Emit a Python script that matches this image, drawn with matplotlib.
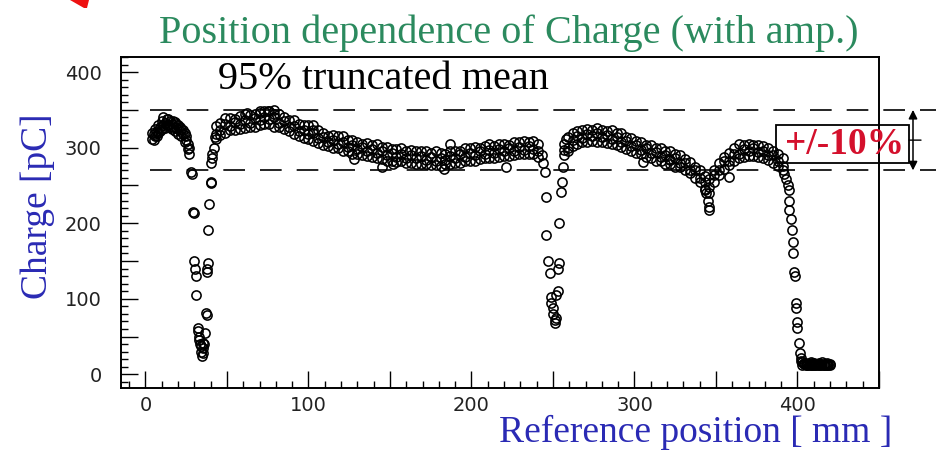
import numpy as np
import matplotlib
matplotlib.use("Agg")
import matplotlib.pyplot as plt
from matplotlib.ticker import MultipleLocator, FuncFormatter
from matplotlib.patches import Rectangle, Polygon

# ---- data (position in mm, charge in pC) ----
# first plateau, x = 4 .. 27
pos_a = [4, 5, 6, 7, 8, 9, 10, 11, 12, 13, 14, 15, 16, 17, 18, 19, 20, 21, 22, 23, 24, 25, 26, 27]
chg_a1 = [312, 318, 315, 322, 320, 328, 325, 330, 333, 338, 330, 335, 332, 328, 334, 326, 330, 322, 325, 318, 320, 310, 305, 300]
chg_a2 = [320, 310, 325, 316, 330, 322, 335, 340, 326, 330, 338, 328, 325, 335, 322, 332, 318, 327, 315, 324, 308, 315, 298, 292]

# first dip
pos_d1 = [28, 28.5, 29, 29.5, 30, 30.5, 31, 31, 32, 32, 33, 33, 33.5, 34, 34, 34.5, 35, 35,
          35.5, 36, 36.5, 37, 37.5, 38, 38.5, 38, 38.6, 39, 40, 40, 40.5, 41, 41, 42, 42.5]
chg_d1 = [268, 265, 215, 213, 150, 140, 130, 105, 62, 58, 50, 45, 40, 38, 30, 25, 28, 35,
          42, 40, 55, 81, 78, 140, 147, 135, 191, 226, 253, 255, 280, 287, 292, 300, 314]

# long plateau, x = 43 .. 241
pos_b = [43, 46, 49, 52, 55, 58, 61, 64, 67, 70, 73, 76, 79, 82, 85, 88, 91, 94, 97, 100,
         103, 106, 109, 112, 115, 118, 121, 124, 127, 130, 133, 136, 139, 142, 145, 148, 151,
         154, 157, 160, 163, 166, 169, 172, 175, 178, 181, 184, 187, 190, 193, 196, 199, 202,
         205, 208, 211, 214, 217, 220, 223, 226, 229, 232, 235, 238, 241]
chg_b_hi = [329, 333, 339, 339, 338, 342, 345, 343, 344, 348, 348, 348, 345, 345, 341, 336, 336,
            331, 330, 330, 324, 324, 320, 316, 317, 315, 315, 310, 310, 308, 305, 306, 303, 305,
            301, 301, 298, 298, 300, 295, 297, 295, 295, 295, 293, 295, 293, 292, 296, 296, 296,
            300, 299, 301, 299, 302, 305, 302, 305, 305, 303, 307, 307, 309, 307, 309, 305]
chg_b_mid = [318, 324, 331, 329, 334, 331, 336, 333, 339, 336, 341, 338, 340, 333, 335, 328, 329,
             322, 324, 318, 319, 313, 314, 308, 310, 305, 307, 301, 303, 298, 301, 295, 298, 293,
             295, 290, 293, 288, 292, 287, 290, 286, 289, 284, 288, 283, 287, 284, 289, 286, 291,
             288, 293, 290, 295, 292, 297, 293, 298, 295, 299, 296, 301, 297, 302, 298, 296]
chg_b_lo = [312, 317, 320, 323, 324, 325, 326, 327, 328, 330, 331, 331, 328, 327, 325, 322, 318,
            316, 313, 312, 309, 306, 304, 302, 299, 299, 296, 295, 292, 291, 290, 289, 288, 286,
            285, 283, 282, 281, 282, 280, 280, 279, 278, 278, 277, 277, 276, 278, 279, 280, 280,
            282, 283, 283, 285, 286, 287, 286, 288, 289, 289, 290, 291, 291, 292, 291, 288]

# second dip
pos_d2 = [243, 244, 245, 245.5, 246, 247, 248, 249, 249, 250, 250, 251, 251, 252, 252, 253,
          253, 254, 254, 255, 255.5, 256, 256.5, 257, 257, 258]
chg_d2 = [290, 280, 268, 235, 184, 150, 134, 102, 95, 88, 80, 72, 68, 75, 105, 110,
          140, 148, 201, 241, 254, 274, 297, 305, 290, 312]

# second plateau, x = 259 .. 391
pos_c = [259, 262, 265, 268, 271, 274, 277, 280, 283, 286, 289, 292, 295, 298, 301, 304, 307,
         310, 313, 316, 319, 322, 325, 328, 331, 334, 337, 340, 343, 346, 349, 352, 355, 358,
         361, 364, 367, 370, 373, 376, 379, 382, 385, 388, 391]
chg_c_hi = [314, 320, 322, 324, 325, 324, 326, 324, 322, 323, 319, 319, 314, 313, 309, 308, 304,
            304, 299, 299, 295, 295, 291, 290, 285, 281, 275, 270, 262, 258, 270, 280, 288, 293,
            300, 305, 304, 305, 304, 304, 302, 299, 296, 292, 286]
chg_c_mid = [300, 310, 316, 313, 318, 315, 319, 314, 317, 312, 314, 308, 309, 302, 304, 297, 299,
             293, 294, 288, 290, 284, 286, 280, 280, 271, 270, 260, 254, 248, 264, 270, 282, 283,
             292, 292, 298, 295, 299, 294, 296, 290, 290, 282, 276]
chg_c_lo = [296, 302, 305, 307, 307, 309, 308, 307, 306, 305, 303, 301, 298, 296, 293, 291, 288,
            287, 283, 282, 279, 278, 275, 274, 270, 266, 260, 255, 244, 240, 254, 264, 272, 277,
            282, 286, 288, 289, 289, 288, 286, 284, 280, 276, 270]

# scattered single points
pos_out = [62, 70, 75, 79, 103, 128, 145, 152, 183, 187, 221, 305, 321, 343, 344, 345, 345.5, 346, 358]
chg_out = [346, 346, 349, 350, 330, 285, 274, 278, 272, 305, 275, 281, 285, 245, 240, 230, 217, 222, 261]

# third drop and tail
pos_d3 = [392, 393, 394, 394.5, 395, 395, 396, 396.5, 397, 397, 398, 398.5, 399, 399, 400, 400, 401, 401.5]
chg_d3 = [265, 258, 250, 244, 230, 217, 205, 191, 175, 160, 135, 130, 94, 88, 69, 62, 41, 28]
pos_t = [402, 403, 404, 405, 406, 407, 408, 409, 410, 411, 412, 413, 414, 415, 416, 417, 418, 419, 420]
chg_t1 = [22, 16, 14, 15, 13, 14, 16, 13, 15, 14, 13, 15, 14, 16, 13, 14, 15, 13, 14]
chg_t2 = [18, 13, 15, 12, 14, 12, 13, 15, 12, 13, 14, 12, 13, 12, 14, 12, 13, 14, 12]

band_lo, band_hi = 270, 350

W, H = 939, 451
fig = plt.figure(figsize=(W / 100, H / 100), dpi=100)
ax = fig.add_axes([121 / W, 1 - 388 / H, (879 - 121) / W, (388 - 57) / H])

mk = dict(ls="none", marker="o", ms=6.6, mfc="none", mec="black", mew=1.15)
groups = [(pos_a, chg_a1), (pos_a, chg_a2), (pos_d1, chg_d1),
          (pos_b, chg_b_hi), (pos_b, chg_b_mid), (pos_b, chg_b_lo),
          (pos_d2, chg_d2),
          (pos_c, chg_c_hi), (pos_c, chg_c_mid), (pos_c, chg_c_lo),
          (pos_out, chg_out), (pos_d3, chg_d3), (pos_t, chg_t1), (pos_t, chg_t2)]
for xs, ys in groups:
    ax.plot(xs, ys, **mk)

ax.set_xlim(-15, 450)
ax.set_ylim(-18, 420)

# dashed +/-10% lines, running past the frame to the image edge
for yv in (band_lo, band_hi):
    ax.plot([3, 485], [yv, yv], color="black", lw=1.2, ls=(0, (13, 9)), clip_on=False)

for s in ax.spines.values():
    s.set_linewidth(1.4)
ax.xaxis.set_major_locator(MultipleLocator(50))
ax.xaxis.set_minor_locator(MultipleLocator(10))
ax.yaxis.set_major_locator(MultipleLocator(50))
ax.yaxis.set_minor_locator(MultipleLocator(10))
fmt = FuncFormatter(lambda v, p: "%d" % v if abs(v % 100) < 1e-6 else "")
ax.xaxis.set_major_formatter(fmt)
ax.yaxis.set_major_formatter(fmt)
ax.tick_params(which="both", direction="in", top=False, right=False, width=1.0, colors="black",
               labelcolor="#222222", labelsize=14)
ax.tick_params(which="major", length=12)
ax.tick_params(which="minor", length=5)
ax.tick_params(axis="y", pad=14)
ax.tick_params(axis="x", pad=6)

serif = ["Liberation Serif", "DejaVu Serif"]
fig.text(509 / W, 1 - 43 / H, "Position dependence of Charge (with amp.)", family=serif,
         fontsize=29, color="#2b8a5e", ha="center", va="baseline")
fig.text(218 / W, 1 - 89 / H, "95% truncated mean", family=serif, fontsize=29,
         color="black", ha="left", va="baseline")
fig.text(38 / W, 1 - 206 / H, "Charge [pC]", family=serif, fontsize=27, color="#2a2ab4",
         rotation=90, ha="center", va="center")
fig.text(892 / W, 1 - 442 / H, "Reference position [ mm ]", family=serif, fontsize=27,
         color="#2a2ab4", ha="right", va="baseline")

# +/-10% box and double arrow
fig.patches.append(Rectangle((776 / W, 1 - 163 / H), (909 - 776) / W, 38 / H, fill=False,
                             ec="black", lw=1.3, transform=fig.transFigure, figure=fig))
fig.text(845 / W, 1 - 154 / H, "+/-10%", family=serif, fontsize=27, fontweight="bold",
         color="#d4102c", ha="center", va="baseline")
ax.annotate("", xy=(913 / W, band_hi), xytext=(913 / W, band_lo),
            xycoords=("figure fraction", "data"), textcoords=("figure fraction", "data"),
            arrowprops=dict(arrowstyle="<|-|>", color="black", lw=1.1,
                            mutation_scale=13, shrinkA=0, shrinkB=0), annotation_clip=False)
ax.annotate("", xy=(909 / W, (band_lo + band_hi) / 2), xytext=(921 / W, (band_lo + band_hi) / 2),
            xycoords=("figure fraction", "data"), textcoords=("figure fraction", "data"),
            arrowprops=dict(arrowstyle="-", color="black", lw=1.0, shrinkA=0, shrinkB=0),
            annotation_clip=False)

# red mark at the upper left corner
fig.patches.append(Polygon([(70 / W, 1.0), (89 / W, 1.0), (87 / W, 1 - 8 / H), (84 / W, 1 - 8 / H)],
                           closed=True, fc="#ee1111", ec="none", transform=fig.transFigure, figure=fig))

fig.savefig("out.png", dpi=100)
